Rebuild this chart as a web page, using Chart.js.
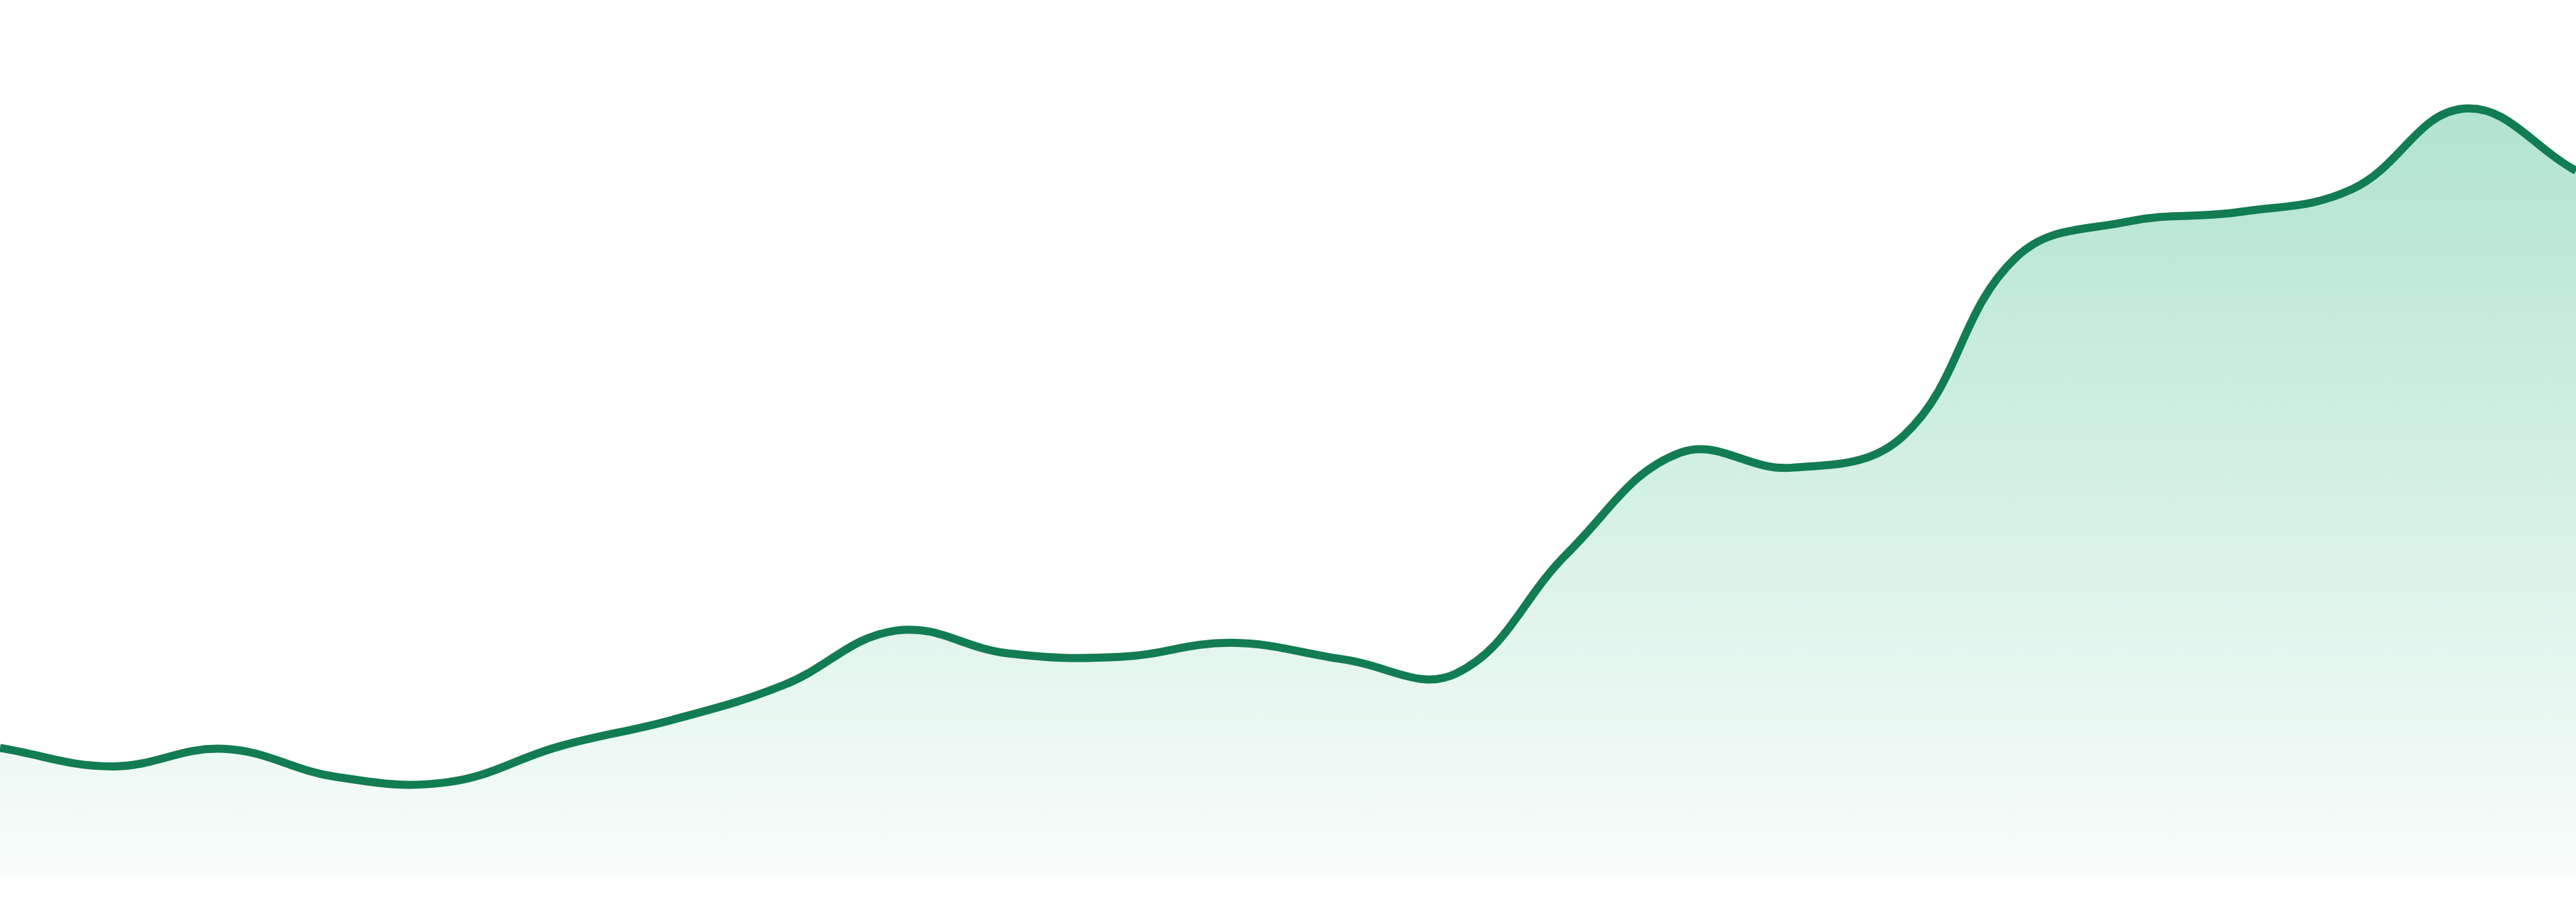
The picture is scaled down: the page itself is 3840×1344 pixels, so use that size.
<!DOCTYPE html>
<html lang="en">
<head>
    <meta charset="UTF-8">
    <title>Trend</title>
    <script src="https://cdn.jsdelivr.net/npm/chart.js@4.4.0/dist/chart.umd.min.js"></script>
    <style>
        html, body {
            margin: 0;
            padding: 0;
            background: #ffffff;
        }
        .chart-box {
            position: relative;
            width: 3840px;
            height: 1344px;
        }
    </style>
</head>
<body>
    <div class="chart-box">
        <canvas id="trendChart"></canvas>
    </div>

    <script>
        // Data (arbitrary 0-100 units)
        const labels = [
            'W1', 'W2', 'W3', 'W4', 'W5', 'W6', 'W7', 'W8',
            'W9', 'W10', 'W11', 'W12', 'W13', 'W14', 'W15', 'W16',
            'W17', 'W18', 'W19', 'W20', 'W21', 'W22', 'W23', 'W24'
        ];
        const values = [
            14.6, 12.5, 14.5, 11.3, 10.7, 14.8, 17.8, 21.8,
            28.0, 25.4, 25.0, 26.6, 24.7, 23.1, 36.9, 48.3,
            46.6, 50.3, 70.6, 74.7, 75.8, 78.4, 87.6, 80.5
        ];
        const yMin = 0;
        const yMax = 100;

        const LINE_COLOR = '#127c52';

        function areaGradient(context) {
            const { ctx, chartArea } = context.chart;
            if (!chartArea) return 'rgba(35, 178, 118, 0.2)';
            const g = ctx.createLinearGradient(0, chartArea.top, 0, chartArea.bottom);
            g.addColorStop(0, 'rgba(35, 178, 118, 0.40)');
            g.addColorStop(1, 'rgba(35, 178, 118, 0.03)');
            return g;
        }

        new Chart(document.getElementById('trendChart'), {
            type: 'line',
            data: {
                labels: labels,
                datasets: [{
                    data: values,
                    borderColor: LINE_COLOR,
                    borderWidth: 12,
                    backgroundColor: areaGradient,
                    fill: 'start',
                    tension: 0.4,
                    pointRadius: 0,
                    pointHoverRadius: 0
                }]
            },
            options: {
                animation: false,
                responsive: true,
                maintainAspectRatio: false,
                layout: {
                    autoPadding: false,
                    padding: { top: 0, left: 0, right: 0, bottom: 39 }
                },
                plugins: {
                    legend: { display: false },
                    tooltip: { enabled: false }
                },
                scales: {
                    x: { display: false, offset: false },
                    y: { display: false, min: yMin, max: yMax }
                }
            }
        });
    </script>
</body>
</html>
